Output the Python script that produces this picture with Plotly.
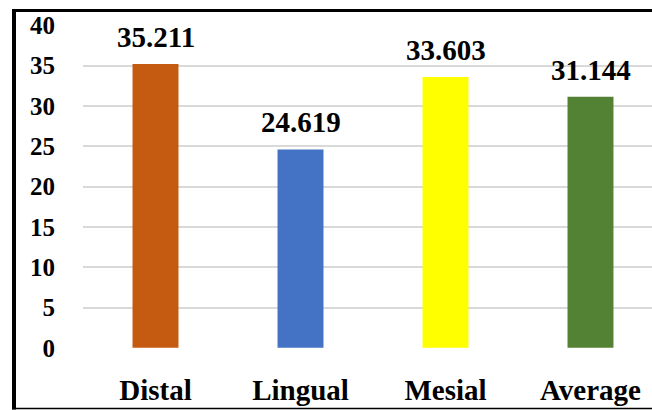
import plotly.graph_objects as go

categories = ["Distal", "Lingual", "Mesial", "Average"]
values = [35.211, 24.619, 33.603, 31.144]
labels = ["35.211", "24.619", "33.603", "31.144"]
colors = ["#C55A11", "#4472C4", "#FFFF00", "#548235"]
y_ticks = [0, 5, 10, 15, 20, 25, 30, 35, 40]

W, H = 652, 410
ML, MR, MT, MB = 83, 0, 25, 62
PW, PH = W - ML - MR, H - MT - MB

def px_x(x):
    return (x - ML) / PW

def px_y(y):
    return (H - MB - y) / PH

FONT = "Liberation Serif"

fig = go.Figure()
fig.add_trace(go.Bar(
    x=list(range(len(categories))), y=values,
    marker=dict(color=colors, line=dict(width=0)),
    width=0.317, showlegend=False, hoverinfo="skip",
))

for i, (v, t) in enumerate(zip(values, labels)):
    fig.add_annotation(x=i, y=v, text="<b>" + t + "</b>", showarrow=False, yanchor="bottom",
                       yshift=9, font=dict(family=FONT, size=29, color="#000000"))

fig.update_layout(
    width=W, height=H,
    margin=dict(l=ML, r=MR, t=MT, b=MB, pad=0),
    paper_bgcolor="white", plot_bgcolor="white",
    font=dict(family=FONT),
    xaxis=dict(range=[-0.5, -0.5 + PW / 145.0], tickvals=list(range(len(categories))),
               ticktext=["<b>" + c + "</b>" for c in categories], showgrid=False,
               zeroline=False, showline=False,
               tickfont=dict(family=FONT, size=29, color="#000000"),
               ticklabelstandoff=22, fixedrange=True),
    yaxis=dict(range=[-0.02, 40.05], tickvals=y_ticks,
               ticktext=["<b>" + str(t) + "</b>" for t in y_ticks],
               showgrid=True, gridcolor="#D9D9D9",
               gridwidth=1.5, zeroline=False, showline=False,
               tickfont=dict(family=FONT, size=25, color="#000000"),
               ticklabelstandoff=27, fixedrange=True),
    shapes=[
        dict(type="line", xref="paper", yref="paper", x0=px_x(14), x1=px_x(14),
             y0=px_y(9), y1=px_y(409.5), line=dict(color="#000000", width=4)),
        dict(type="line", xref="paper", yref="paper", x0=px_x(12), x1=px_x(660),
             y0=px_y(10.5), y1=px_y(10.5), line=dict(color="#000000", width=3)),
        dict(type="line", xref="paper", yref="paper", x0=px_x(12), x1=px_x(660),
             y0=px_y(408.5), y1=px_y(408.5), line=dict(color="#000000", width=1.5)),
    ],
)

fig.write_html("out.html")
